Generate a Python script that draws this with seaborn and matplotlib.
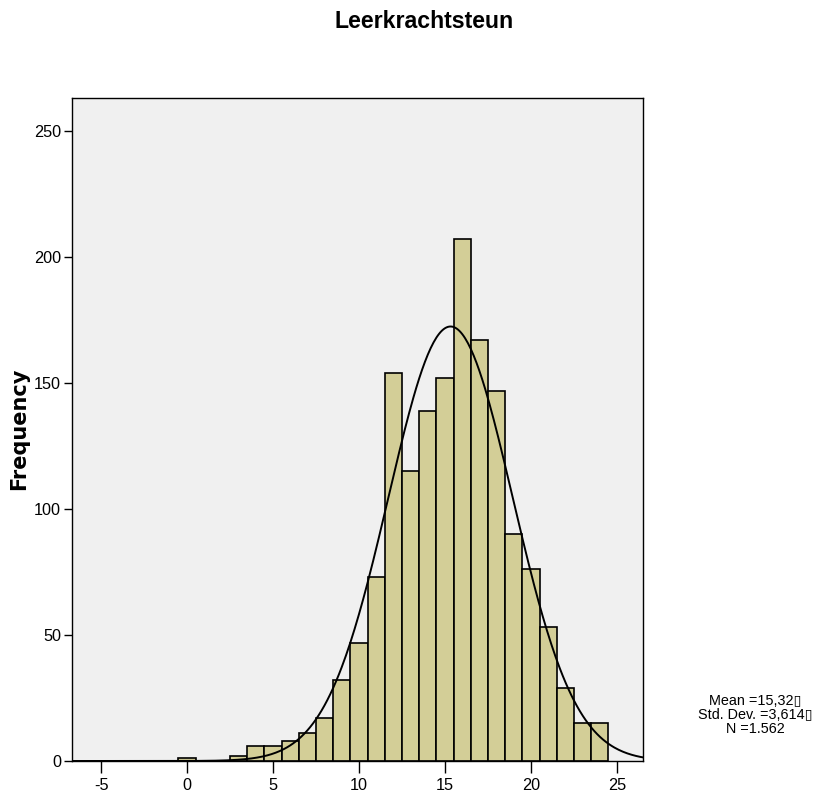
import numpy as np
import pandas as pd
import matplotlib
matplotlib.use("Agg")
import matplotlib.pyplot as plt
from matplotlib import font_manager
import seaborn as sns

# Histogram data: bin centres (width 1) and frequencies
bin_centers = list(range(0, 25))
counts = [1, 0, 0, 2, 6, 6, 8, 11, 17, 32, 47, 73, 154, 115, 139, 152,
          207, 167, 147, 90, 76, 53, 29, 15, 15]

# Summary statistics shown in the chart
mean_val = 15.32
sd_val = 3.614
n_val = 1562

x_ticks = [-5, 0, 5, 10, 15, 20, 25]
y_ticks = [0, 50, 100, 150, 200, 250]

sns.set_theme(style="ticks")

# narrow font if it's there, else plain Liberation Sans
try:
    font_manager.findfont("Liberation Sans Narrow", fallback_to_default=False)
    narrow = "Liberation Sans Narrow"
    scale = 1.0
except ValueError:
    narrow = "Liberation Sans"
    scale = 0.9
plt.rcParams['font.family'] = [narrow, 'DejaVu Sans']
plt.rcParams['text.color'] = 'black'
plt.rcParams['axes.labelcolor'] = 'black'

df = pd.DataFrame({'score': bin_centers, 'freq': counts})

fig = plt.figure(figsize=(8.23, 7.96), dpi=100)
ax = fig.add_axes([72 / 823, 1 - 761 / 796, (643 - 72) / 823, (761 - 98) / 796])
ax.set_facecolor('#f0f0f0')

sns.histplot(data=df, x='score', weights='freq', discrete=True, ax=ax,
             color='#d3ce97', alpha=1, edgecolor='black', linewidth=1.2)

# normal curve from the mean / sd / N shown in the chart
xs = np.linspace(-6.7, 26.6, 400)
ys = n_val * 1.0 / (sd_val * np.sqrt(2 * np.pi)) * np.exp(-0.5 * ((xs - mean_val) / sd_val) ** 2)
sns.lineplot(x=xs, y=ys, color='black', linewidth=1.4, ax=ax)

ax.set_xlim(-6.69, 26.51)
ax.set_ylim(0, 263.1)
ax.set_xticks(x_ticks)
ax.set_yticks(y_ticks)
ax.set_xticklabels([str(t) for t in x_ticks], fontsize=13 * scale)
ax.set_yticklabels([str(t) for t in y_ticks], fontsize=13 * scale)
ax.tick_params(axis='x', direction='out', length=8.5, width=1, pad=4, colors='black')
ax.tick_params(axis='y', direction='out', length=6, width=1, pad=2, colors='black')
ax.set_xlabel("")
ax.set_ylabel("")
for s in ax.spines.values():
    s.set_visible(True)
    s.set_color('black')
    s.set_linewidth(1.0)

fig.text(424 / 823, 1 - 22 / 796, "Leerkrachtsteun", ha='center', va='center',
         fontsize=18.5 * scale, fontweight='bold', color='black')
fig.text(19 / 823, 1 - 429 / 796, "Frequency", ha='center', va='center', rotation=90,
         fontsize=15, fontweight='bold', family='DejaVu Sans', color='black')

stats = ["Mean =15,32\u25af", "Std. Dev. =3,614\u25af", "N =1.562"]
for i, line in enumerate(stats):
    fig.text(755 / 823, 1 - (701 + 14 * i) / 796, line, ha='center', va='center',
             fontsize=11.5 * scale, family=[narrow, 'DejaVu Sans'], color='black')

fig.savefig("out.png", dpi=100)
